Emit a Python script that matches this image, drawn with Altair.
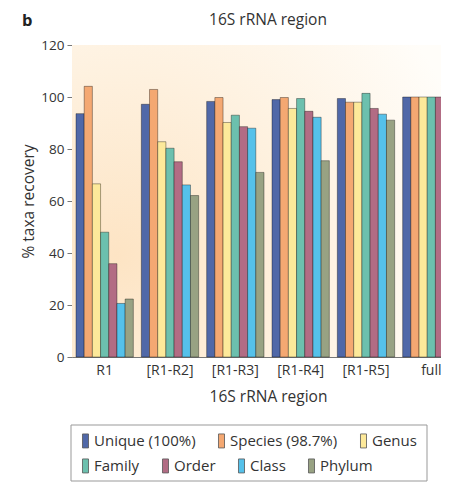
import altair as alt
import pandas as pd

regions = ["R1", "[R1-R2]", "[R1-R3]", "[R1-R4]", "[R1-R5]", "full"]
taxa = ["Unique (100%)", "Species (98.7%)", "Genus", "Family", "Order", "Class", "Phylum"]

unique = [93.6, 97.2, 98.3, 99.0, 99.4, 100]
species = [104.1, 102.9, 99.8, 99.8, 98.0, 100]
genus = [66.6, 82.8, 90.2, 95.6, 98.0, 100]
family = [48.0, 80.3, 93.0, 99.4, 101.4, 100]
order = [35.9, 75.1, 88.6, 94.5, 95.6, 100]
klass = [20.6, 66.2, 88.0, 92.2, 93.4, 100]
phylum = [22.3, 62.1, 71.0, 75.5, 91.1, 100]

colors = ["#5068a8", "#f4a872", "#fde99a", "#6cc0ae", "#b26c84", "#55c1ea", "#98a283"]

series = [unique, species, genus, family, order, klass, phylum]
rows = [
    {"region": r, "taxon": t, "value": v}
    for t, vals in zip(taxa, series)
    for r, v in zip(regions, vals)
]
df = pd.DataFrame(rows)

FONT = "Open Sans"
TXT = "#333333"
W, H = 369, 312
RANGE = 392

x_enc = alt.X(
    "region:N",
    sort=regions,
    scale=alt.Scale(domain=regions, range=[0, RANGE], paddingInner=0.1225, paddingOuter=0.06125),
    axis=alt.Axis(
        title="16S rRNA region", labelAngle=0, ticks=False, domainColor="#777777",
        labelFontSize=14, labelPadding=6, labelColor=TXT, labelFont=FONT,
        titleFontSize=15.5, titleFont=FONT, titleColor=TXT, titleFontWeight="normal",
        titlePadding=12,
    ),
)
y_enc = alt.Y(
    "value:Q",
    scale=alt.Scale(domain=[0, 120], nice=False),
    axis=alt.Axis(
        values=[0, 20, 40, 60, 80, 100, 120], title="% taxa recovery", grid=False,
        tickSize=5, tickColor="#777777", domainColor="#777777",
        labelFontSize=13.5, labelPadding=3, labelColor=TXT, labelFont=FONT,
        titleFontSize=15.5, titleFont=FONT, titleColor=TXT, titleFontWeight="normal",
        titlePadding=4,
    ),
)
xoff = alt.XOffset("taxon:N", sort=taxa, scale=alt.Scale(domain=taxa, paddingInner=0, paddingOuter=0))

sym = "M-0.43,-1H0.43V1H-0.43Z"


def legend(y):
    return alt.Legend(
        title=None, orient="none", legendX=6, legendY=y, direction="horizontal",
        symbolType=sym, symbolSize=196, symbolStrokeColor="#555555", symbolStrokeWidth=0.8,
        labelFont=FONT, labelFontSize=15, labelColor=TXT, labelOffset=1, columnPadding=18,
        padding=0,
    )


bar_style = dict(stroke="#000000", strokeOpacity=0.45, strokeWidth=0.8)

bars_a = alt.Chart(df).transform_filter(
    alt.FieldOneOfPredicate(field="taxon", oneOf=taxa[:3])
).mark_bar(**bar_style).encode(
    x=x_enc, y=y_enc, xOffset=xoff,
    fill=alt.Fill("taxon:N", sort=taxa[:3], scale=alt.Scale(domain=taxa[:3], range=colors[:3]), legend=legend(388)),
)
bars_b = alt.Chart(df).transform_filter(
    alt.FieldOneOfPredicate(field="taxon", oneOf=taxa[3:])
).mark_bar(**bar_style).encode(
    x=x_enc, y=y_enc, xOffset=xoff,
    fill=alt.Fill("taxon:N", sort=taxa[3:], scale=alt.Scale(domain=taxa[3:], range=colors[3:]), legend=legend(413)),
)

one = alt.Data(values=[{"k": 1}])
gradient = {
    "gradient": "radial",
    "x1": 0.12, "y1": 0.65, "r1": 0,
    "x2": 0.12, "y2": 0.65, "r2": 1.0,
    "stops": [
        {"offset": 0, "color": "#fde4c4"},
        {"offset": 0.5, "color": "#fef1df"},
        {"offset": 1, "color": "#fffdf9"},
    ],
}
bg = alt.Chart(one).mark_rect(fill=gradient).encode(
    x=alt.value(0), x2=alt.value(W), y=alt.value(0), y2=alt.value(H)
)
box = alt.Chart(one).mark_rect(filled=False, stroke="#999999", strokeWidth=1).encode(
    x=alt.value(-1), x2=alt.value(355), y=alt.value(380), y2=alt.value(436)
)
letter = alt.Chart(one).mark_text(
    text="b", font=FONT, fontSize=16.5, fontWeight="bold", color="#222222", align="left", baseline="alphabetic"
).encode(x=alt.value(-50), y=alt.value(-19))
top_title = alt.Chart(one).mark_text(
    text="16S rRNA region", font=FONT, fontSize=15.5, color=TXT, align="center", baseline="alphabetic"
).encode(x=alt.value(RANGE / 2), y=alt.value(-20))

chart = alt.layer(bg, bars_a, bars_b, box, letter, top_title).resolve_scale(fill="independent").properties(
    width=W, height=H,
    autosize=alt.AutoSizeParams(type="none"),
    padding={"left": 64, "top": 37, "right": 0, "bottom": 126},
).configure_view(stroke=None)

chart.save("out.html", embed_options={"renderer": "svg", "actions": False})
